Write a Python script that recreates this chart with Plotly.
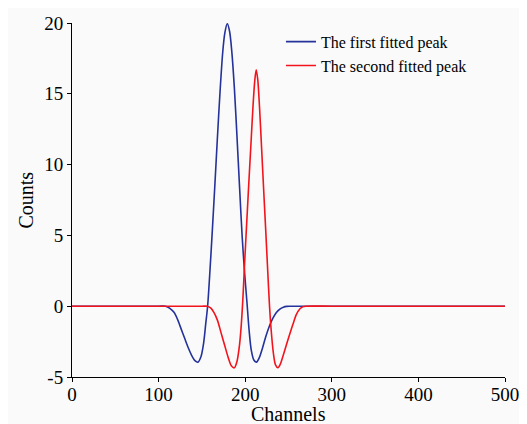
import plotly.graph_objects as go

# First fitted peak (blue)
first_channels = [0, 50, 100, 108, 113, 118, 122, 126, 130, 134, 138, 142, 145.5, 149, 152, 154.5, 156.6,
                  159, 162, 165, 168, 171, 174, 176.5, 179.3, 182, 184.5, 187.5, 190.5, 193.5, 196.5,
                  199.5, 202, 204.5, 207, 210, 213, 216.5, 220, 224, 228, 232, 236, 240, 244, 248, 252,
                  260, 300, 400, 500]
first_counts = [0, 0, 0, 0, -0.15, -0.45, -0.95, -1.6, -2.25, -2.9, -3.45, -3.85, -3.95, -3.55, -2.6, -1.2, 0,
                2.2, 5.3, 8.6, 12.0, 15.2, 17.9, 19.3, 19.95, 19.4, 18.0, 15.4, 12.0, 8.4, 4.9,
                2.2, 0.3, -1.7, -3.1, -3.8, -3.95, -3.6, -2.95, -2.1, -1.4, -0.85, -0.45, -0.2, -0.07, -0.01, 0,
                0, 0, 0, 0]

# Second fitted peak (red)
second_channels = [0, 50, 100, 150, 156, 160, 164, 168, 172, 176, 180, 184, 187.4, 190.5, 193.5, 195.5, 197.3,
                   199.3, 201.5, 204, 206.5, 209, 211, 212.7, 214.5, 216.5, 219, 221.5, 224, 226, 228,
                   230, 232.5, 235, 237.8, 240.5, 243.5, 247, 251, 255, 259, 263, 267, 270, 300, 400, 500]
second_counts = [0, 0, 0, 0, 0, -0.12, -0.45, -1.0, -1.85, -2.7, -3.55, -4.2, -4.35, -3.9, -2.7, -1.3, 0.5,
                 3.0, 5.6, 8.5, 11.3, 14.1, 15.9, 16.7, 16.0, 14.1, 11.1, 8.0, 5.0, 2.5, 0.1,
                 -1.7, -3.3, -4.15, -4.35, -4.1, -3.55, -2.85, -2.05, -1.3, -0.6, -0.2, -0.03, 0, 0, 0, 0]

series_names = ["The first fitted peak", "The second fitted peak"]
axis_titles = ["Channels", "Counts"]

x_tick_vals = [0, 100, 200, 300, 400, 500]
x_tick_text = ["0", "100", "200", "300", "400", "500"]
y_tick_vals = [-5, 0, 5, 10, 15, 20]
y_tick_text = ["-5", "0", "5", "10", "15", "20"]

FONT = "Liberation Serif, Times New Roman, serif"

fig = go.Figure()
fig.add_trace(go.Scatter(x=first_channels, y=first_counts, mode="lines", name=series_names[0],
                         line=dict(color="#24329a", width=1.6, shape="spline", smoothing=0.8)))
fig.add_trace(go.Scatter(x=second_channels, y=second_counts, mode="lines", name=series_names[1],
                         line=dict(color="#f2141c", width=1.6, shape="spline", smoothing=0.8)))

axis_common = dict(showgrid=False, zeroline=False, showline=True, linecolor="black", linewidth=1,
                   ticks="outside", ticklen=4, tickcolor="black", tickfont=dict(size=19),
                   automargin=False)

fig.update_layout(
    width=527, height=424,
    margin=dict(l=64, r=30, t=15, b=55),
    paper_bgcolor="#fafafa", plot_bgcolor="#fafafa",
    font=dict(family=FONT, color="black", size=19),
    showlegend=True,
    legend=dict(x=0.4826, y=0.995, xanchor="left", yanchor="top",
                bgcolor="rgba(0,0,0,0)", font=dict(family=FONT, size=16, color="black"),
                tracegroupgap=0),
    xaxis=dict(range=[0, 500], tickvals=x_tick_vals, ticktext=x_tick_text,
               ticklabelstandoff=-4, **axis_common),
    yaxis=dict(range=[-5, 20], tickvals=y_tick_vals, ticktext=y_tick_text, **axis_common),
)

fig.add_annotation(text=axis_titles[0], xref="paper", yref="paper", x=0.5, y=-0.1045,
                   xanchor="center", yanchor="middle", showarrow=False, borderpad=0,
                   font=dict(family=FONT, size=20, color="black"))
fig.add_annotation(text=axis_titles[1], xref="paper", yref="paper", x=-0.1073, y=0.5,
                   xanchor="center", yanchor="middle", textangle=-90, showarrow=False,
                   font=dict(family=FONT, size=20, color="black"))

fig.write_html("out.html")
